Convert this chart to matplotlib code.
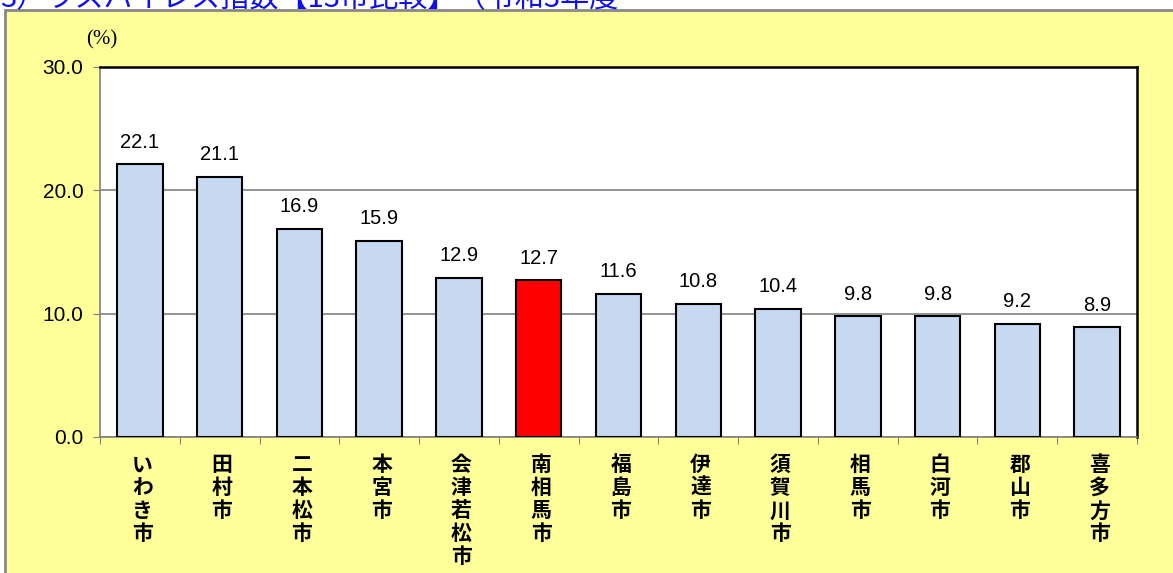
import matplotlib.pyplot as plt
from matplotlib.patches import Rectangle

plt.rcParams['font.family'] = ['Liberation Sans', 'Noto Sans CJK JP', 'DejaVu Sans']

title = "3）ラスパイレス指数【13市比較】（令和3年度"
cities = ["いわき市", "田村市", "二本松市", "本宮市", "会津若松市", "南相馬市", "福島市",
          "伊達市", "須賀川市", "相馬市", "白河市", "郡山市", "喜多方市"]
rates = [22.1, 21.1, 16.9, 15.9, 12.9, 12.7, 11.6, 10.8, 10.4, 9.8, 9.8, 9.2, 8.9]
highlight = "南相馬市"
yticks = [0, 10, 20, 30]

fig = plt.figure(figsize=(11.73, 5.73), dpi=100)
fig.patch.set_facecolor("white")

# yellow panel behind the chart
fig.patches.append(Rectangle((5 / 1173, -0.1), 1.2, 1 - 10 / 573 + 0.1,
                             transform=fig.transFigure, facecolor="#ffff99",
                             edgecolor="#888888", lw=2, zorder=-5))

fig.text(0.0, 1 - 6 / 573, title, color="#1010ee", fontsize=21,
         family=['Noto Sans CJK JP', 'DejaVu Sans'], va='baseline', ha='left')

ax = fig.add_axes([100 / 1173, 1 - 437 / 573, 1037 / 1173, 370 / 573])
ax.set_facecolor("white")

x = list(range(len(cities)))
colors = ["#ff0000" if c == highlight else "#c6d9f1" for c in cities]
bars = ax.bar(x, rates, width=0.57, color=colors, edgecolor="black", linewidth=1.5, zorder=3)

for xi, v in zip(x, rates):
    ax.annotate(f"{v:.1f}", (xi, v), xytext=(0, 9), textcoords="offset points",
                ha="center", va="bottom", fontsize=14.5)

ax.set_xlim(-0.5, len(cities) - 0.5)
ax.set_ylim(0, 30)
ax.set_yticks(yticks)
ax.set_yticklabels([f"{t:.1f}" for t in yticks], fontsize=15)
ax.yaxis.grid(True, color="#808080", lw=1.2, zorder=1)
ax.set_axisbelow(True)

ax.set_xticks([i - 0.5 for i in range(len(cities) + 1)])
ax.set_xticklabels([])
ax.tick_params(axis='x', direction='out', length=5, color="#808080")
ax.tick_params(axis='y', direction='out', length=5, color="#808080", pad=7)

for xi, c in zip(x, cities):
    ax.text(xi + 0.03, -1.4, "\n".join(c), ha="center", va="top", fontsize=15,
            fontweight="bold", linespacing=1.12,
            family=['Noto Sans CJK JP', 'DejaVu Sans'])

for s in ["top", "right"]:
    ax.spines[s].set_color("black")
    ax.spines[s].set_linewidth(1.8)
for s in ["left", "bottom"]:
    ax.spines[s].set_color("#808080")
    ax.spines[s].set_linewidth(1.2)

fig.text(102 / 1173, 1 - 40 / 573, "(%)", family="Liberation Serif", fontsize=15,
         ha="center", va="center")

fig.savefig("out.png", dpi=100)
